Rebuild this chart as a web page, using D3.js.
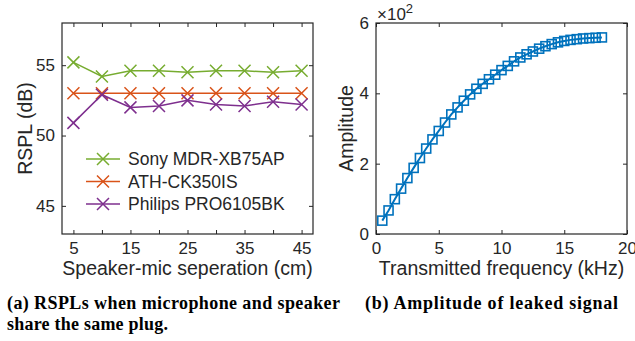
<!DOCTYPE html>
<html>
<head>
<meta charset="utf-8">
<script src="https://cdn.jsdelivr.net/npm/d3@7"></script>
<style>
  body { margin: 0; background: #fff; }
  svg { display: block; }
</style>
</head>
<body>
<div id="chart"></div>
<script>
// left panel: RSPL vs separation
const separation = [5, 10, 15, 20, 25, 30, 35, 40, 45];
const sonyRspl = [55.2, 54.2, 54.6, 54.6, 54.5, 54.6, 54.6, 54.5, 54.6];
const athRspl = [53.0, 53.0, 53.0, 53.0, 53.0, 53.0, 53.0, 53.0, 53.0];
const philipsRspl = [50.9, 52.9, 52.0, 52.1, 52.5, 52.2, 52.1, 52.4, 52.2];
const leftXTicks = [5, 10, 15, 20, 25, 30, 35, 40, 45];
const leftXLabels = [5, 15, 25, 35, 45];
const leftYTicks = [45, 50, 55];

// right panel: amplitude of leaked signal
const freqKhz = [0.5, 1, 1.5, 2, 2.5, 3, 3.5, 4, 4.5, 5, 5.5, 6, 6.5, 7, 7.5, 8, 8.5, 9,
  9.5, 10, 10.5, 11, 11.5, 12, 12.5, 13, 13.5, 14, 14.5, 15, 15.5, 16, 16.5, 17, 17.5, 18];
const amplitude = [38, 67, 99, 129, 159, 188, 216, 243, 269, 293, 317, 340, 360, 379, 397, 413, 427, 440,
  453, 466, 478, 491, 502, 511, 519, 527, 534, 540, 545, 549, 552, 554, 556, 557, 558, 559];
const rightXTicks = [0, 5, 10, 15, 20];
const rightYTicks = [0, 200, 400, 600];

const W = 635, H = 341;
const axisColor = "#262626";
const sans = "'Liberation Sans', Arial, Helvetica, sans-serif";
const serif = "'Liberation Serif', 'Times New Roman', serif";

const svg = d3.select("#chart").append("svg")
  .attr("width", W)
  .attr("height", H)
  .attr("font-family", sans);

function drawFrame(g, x, y, xTicks, xLabelVals, yTicks, yFmt) {
  const [x0, x1] = x.range();
  const [y0, y1] = y.range();

  g.append("g")
    .attr("transform", "translate(0," + y0 + ")")
    .call(d3.axisBottom(x).tickValues(xTicks).tickSizeInner(-4).tickSizeOuter(0).tickPadding(8)
      .tickFormat(d => xLabelVals.includes(d) ? d : ""))
    .call(a => a.select(".domain").remove());

  g.append("g")
    .attr("transform", "translate(0," + y1 + ")")
    .call(d3.axisTop(x).tickValues(xTicks).tickSizeInner(-4).tickSizeOuter(0).tickFormat(""))
    .call(a => a.select(".domain").remove());

  g.append("g")
    .attr("transform", "translate(" + x0 + ",0)")
    .call(d3.axisLeft(y).tickValues(yTicks).tickSizeInner(-4).tickSizeOuter(0).tickPadding(7)
      .tickFormat(yFmt))
    .call(a => a.select(".domain").remove());

  g.append("g")
    .attr("transform", "translate(" + x1 + ",0)")
    .call(d3.axisRight(y).tickValues(yTicks).tickSizeInner(-4).tickSizeOuter(0).tickFormat(""))
    .call(a => a.select(".domain").remove());

  g.selectAll(".tick line").attr("stroke", axisColor).attr("stroke-width", 1);
  g.selectAll(".tick text")
    .attr("fill", axisColor)
    .attr("font-family", sans)
    .attr("font-size", "17px");

  g.append("rect")
    .attr("x", x0).attr("y", y1)
    .attr("width", x1 - x0).attr("height", y0 - y1)
    .attr("fill", "none")
    .attr("stroke", axisColor)
    .attr("stroke-width", 1.2);
}

function crossPath(cx, cy, r) {
  return "M" + (cx - r) + "," + (cy - r) + "L" + (cx + r) + "," + (cy + r) +
    "M" + (cx - r) + "," + (cy + r) + "L" + (cx + r) + "," + (cy - r);
}

// ---------- panel (a) ----------
const xa = d3.scaleLinear().domain([3, 47]).range([62, 313]);
const ya = d3.scaleLinear().domain([43, 58]).range([234, 23]);
const ga = svg.append("g");

const seriesA = [
  { name: "Sony MDR-XB75AP", values: sonyRspl, color: "#77AC30" },
  { name: "ATH-CK350IS", values: athRspl, color: "#D95319" },
  { name: "Philips PRO6105BK", values: philipsRspl, color: "#7E2F8E" }
];

const lineA = d3.line()
  .x((d, i) => xa(separation[i]))
  .y(d => ya(d));

seriesA.forEach(s => {
  ga.append("path")
    .datum(s.values)
    .attr("fill", "none")
    .attr("stroke", s.color)
    .attr("stroke-width", 1.5)
    .attr("d", lineA);

  ga.append("g").selectAll("path")
    .data(s.values)
    .join("path")
    .attr("d", (d, i) => crossPath(xa(separation[i]), ya(d), 6))
    .attr("stroke", s.color)
    .attr("stroke-width", 1.5)
    .attr("fill", "none");
});

drawFrame(ga, xa, ya, leftXTicks, leftXLabels, leftYTicks, d => d);

// legend
const legA = ga.append("g").attr("transform", "translate(86,159)");
seriesA.forEach((s, i) => {
  const row = legA.append("g").attr("transform", "translate(0," + i * 22.5 + ")");
  row.append("line")
    .attr("x1", 0).attr("x2", 34).attr("y1", 0).attr("y2", 0)
    .attr("stroke", s.color).attr("stroke-width", 1.5);
  row.append("path")
    .attr("d", crossPath(17, 0, 6))
    .attr("stroke", s.color).attr("stroke-width", 1.5);
  row.append("text")
    .attr("x", 42).attr("y", 6)
    .attr("font-size", "17.5px")
    .attr("fill", axisColor)
    .text(s.name);
});

ga.append("text")
  .attr("transform", "translate(32," + (23 + 234) / 2 + ") rotate(-90)")
  .attr("text-anchor", "middle")
  .attr("font-size", "19.5px")
  .attr("fill", axisColor)
  .text("RSPL (dB)");

ga.append("text")
  .attr("x", (62 + 313) / 2)
  .attr("y", 275)
  .attr("text-anchor", "middle")
  .attr("font-size", "19.5px")
  .attr("fill", axisColor)
  .text("Speaker-mic seperation (cm)");

// ---------- panel (b) ----------
const xb = d3.scaleLinear().domain([0, 20]).range([376, 627]);
const yb = d3.scaleLinear().domain([0, 600]).range([234, 23]);
const gb = svg.append("g");

gb.append("path")
  .datum(amplitude)
  .attr("fill", "none")
  .attr("stroke", "#0072BD")
  .attr("stroke-width", 2)
  .attr("d", d3.line().x((d, i) => xb(freqKhz[i])).y(d => yb(d)));

gb.append("g").selectAll("rect")
  .data(amplitude)
  .join("rect")
  .attr("x", (d, i) => xb(freqKhz[i]) - 4.5)
  .attr("y", d => yb(d) - 4.5)
  .attr("width", 9)
  .attr("height", 9)
  .attr("fill", "none")
  .attr("stroke", "#0072BD")
  .attr("stroke-width", 1.6);

drawFrame(gb, xb, yb, rightXTicks, rightXTicks, rightYTicks, d => d / 100);

const expo = gb.append("text")
  .attr("x", 377)
  .attr("y", 20)
  .attr("font-size", "17px")
  .attr("fill", axisColor);
expo.append("tspan").text("\u00d710");
expo.append("tspan").attr("dy", -7).attr("font-size", "13px").text("2");

gb.append("text")
  .attr("transform", "translate(353," + (23 + 234) / 2 + ") rotate(-90)")
  .attr("text-anchor", "middle")
  .attr("font-size", "19.5px")
  .attr("fill", axisColor)
  .text("Amplitude");

gb.append("text")
  .attr("x", (376 + 627) / 2)
  .attr("y", 275)
  .attr("text-anchor", "middle")
  .attr("font-size", "19.5px")
  .attr("fill", axisColor)
  .text("Transmitted frequency (kHz)");

// ---------- captions ----------
const cap = svg.append("g")
  .attr("font-family", serif)
  .attr("font-weight", "bold")
  .attr("font-size", "18px")
  .attr("fill", "#000");
cap.append("text").attr("x", 7).attr("y", 309)
  .attr("textLength", 333).attr("lengthAdjust", "spacing")
  .text("(a) RSPLs when microphone and speaker");
cap.append("text").attr("x", 7).attr("y", 330)
  .attr("textLength", 161).attr("lengthAdjust", "spacing")
  .text("share the same plug.");
cap.append("text").attr("x", 365).attr("y", 309)
  .attr("textLength", 253).attr("lengthAdjust", "spacing")
  .text("(b) Amplitude of leaked signal");
</script>
</body>
</html>
